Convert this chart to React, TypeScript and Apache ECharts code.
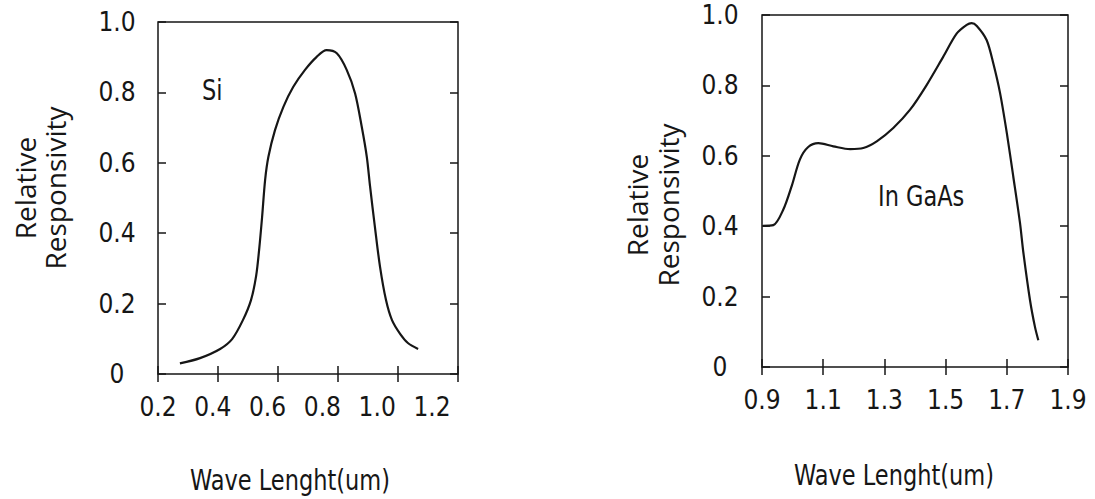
import React, { useEffect, useRef } from "react";
import * as echarts from "echarts";

// Si curve (wavelength in um, relative responsivity)
const siX = [0.273, 0.34, 0.407, 0.447, 0.483, 0.51, 0.527, 0.537, 0.547, 0.557, 0.568, 0.59, 0.618, 0.651, 0.69, 0.729, 0.762, 0.796, 0.829, 0.857, 0.879, 0.896, 0.907, 0.923, 0.94, 0.96, 0.98, 1.007, 1.033, 1.067];
const siY = [0.03, 0.045, 0.071, 0.099, 0.153, 0.21, 0.278, 0.352, 0.446, 0.551, 0.617, 0.693, 0.759, 0.816, 0.864, 0.901, 0.92, 0.911, 0.864, 0.797, 0.703, 0.617, 0.532, 0.418, 0.305, 0.21, 0.153, 0.114, 0.088, 0.071];

// InGaAs curve
const ingaasX = [0.903, 0.937, 0.97, 0.997, 1.024, 1.051, 1.084, 1.133, 1.188, 1.231, 1.275, 1.329, 1.384, 1.438, 1.492, 1.536, 1.569, 1.585, 1.602, 1.634, 1.656, 1.678, 1.7, 1.721, 1.743, 1.754, 1.776, 1.792, 1.803];
const ingaasY = [0.401, 0.403, 0.448, 0.514, 0.59, 0.625, 0.636, 0.627, 0.619, 0.622, 0.641, 0.679, 0.731, 0.801, 0.881, 0.947, 0.972, 0.977, 0.969, 0.929, 0.862, 0.778, 0.665, 0.542, 0.41, 0.326, 0.189, 0.114, 0.076];

// tick labels
const siXTicks = [0.2, 0.4, 0.6, 0.8, 1.0, 1.2];
const ingaasXTicks = [0.9, 1.1, 1.3, 1.5, 1.7, 1.9];
const yTicks = [0, 0.2, 0.4, 0.6, 0.8, 1.0];

const xTitle = "Wave Lenght(um)";
const yTitle = "Relative\nResponsivity";
const siName = "Si";
const ingaasName = "In GaAs";

const INK = "#161616";
const LABEL_FONT = "'DejaVu Sans Condensed', 'Liberation Sans Narrow', 'DejaVu Sans', sans-serif";
const TITLE_FONT = "'Open Sans', 'Liberation Sans', sans-serif";

const fmt = (v: number) => (v === 0 ? "0" : v.toFixed(1));

export default function App() {
  const ref = useRef<HTMLDivElement>(null);
  useEffect(() => {
    if (!ref.current) return;
    const chart = echarts.init(ref.current, null, { renderer: "svg" });
    const tick = { show: true, inside: true, length: 8, lineStyle: { color: INK, width: 1.5 } };
    const noLabel = { show: false };
    const labelStyle = { color: INK, fontSize: 26, lineHeight: 22, fontFamily: LABEL_FONT };
    const grids = [
      { left: 158, top: 22, width: 300, height: 352, show: true, borderColor: INK, borderWidth: 1.5, backgroundColor: "transparent" },
      { left: 762, top: 15, width: 306, height: 352, show: true, borderColor: INK, borderWidth: 1.5, backgroundColor: "transparent" },
    ];
    const xAxes: any[] = [
      // 0: Si bottom ticks
      { type: "value", gridIndex: 0, position: "bottom", min: 0.2, max: 1.2, interval: 0.2, axisLine: { show: false }, axisTick: tick, axisLabel: noLabel, splitLine: { show: false } },
      // 1: Si top ticks
      { type: "value", gridIndex: 0, position: "top", min: 0.2, max: 1.2, interval: 0.2, axisLine: { show: false }, axisTick: tick, axisLabel: noLabel, splitLine: { show: false } },
      // 2: Si labels
      {
        type: "value", gridIndex: 0, position: "bottom", min: 0.2, max: 1.295,
        axisLine: { show: false }, axisTick: { show: false }, splitLine: { show: false },
        axisLabel: { ...labelStyle, margin: 22, customValues: siXTicks, formatter: (v: number) => fmt(v) },
      },
      // 3: InGaAs bottom
      {
        type: "value", gridIndex: 1, position: "bottom", min: 0.9, max: 1.9, interval: 0.2,
        axisLine: { show: false }, axisTick: tick, splitLine: { show: false },
        axisLabel: { ...labelStyle, margin: 22, customValues: ingaasXTicks, formatter: (v: number) => fmt(v) },
      },
      // 4: InGaAs top
      { type: "value", gridIndex: 1, position: "top", min: 0.9, max: 1.9, interval: 0.2, axisLine: { show: false }, axisTick: tick, axisLabel: noLabel, splitLine: { show: false } },
    ];
    const yAxes: any[] = [
      {
        type: "value", gridIndex: 0, position: "left", min: 0, max: 1, interval: 0.2,
        axisLine: { show: false }, axisTick: tick, splitLine: { show: false },
        axisLabel: { ...labelStyle, margin: 41, align: "center", customValues: yTicks, formatter: (v: number) => fmt(v) },
      },
      { type: "value", gridIndex: 0, position: "right", min: 0, max: 1, interval: 0.2, axisLine: { show: false }, axisTick: tick, axisLabel: noLabel, splitLine: { show: false } },
      {
        type: "value", gridIndex: 1, position: "left", min: 0, max: 1, interval: 0.2,
        axisLine: { show: false }, axisTick: tick, splitLine: { show: false },
        axisLabel: { ...labelStyle, margin: 42, align: "center", customValues: yTicks, formatter: (v: number) => fmt(v) },
      },
      { type: "value", gridIndex: 1, position: "right", min: 0, max: 1, interval: 0.2, axisLine: { show: false }, axisTick: tick, axisLabel: noLabel, splitLine: { show: false } },
    ];
    const textStyle = (t: string, font: string, size: number) => ({ text: t, fill: INK, fontSize: size, fontFamily: font });
    chart.setOption({
      animation: false,
      backgroundColor: "#ffffff",
      grid: grids,
      xAxis: xAxes,
      yAxis: yAxes,
      series: [
        {
          type: "line", name: siName, xAxisIndex: 0, yAxisIndex: 0,
          data: siX.map((x, i) => [x, siY[i]]),
          smooth: 0.3, showSymbol: false,
          lineStyle: { color: INK, width: 2.2 },
        },
        {
          type: "line", name: ingaasName, xAxisIndex: 3, yAxisIndex: 2,
          data: ingaasX.map((x, i) => [x, ingaasY[i]]),
          smooth: 0.3, showSymbol: false,
          lineStyle: { color: INK, width: 2.2 },
        },
      ],
      graphic: [
        { type: "text", x: 202, y: 90, scaleY: 1.15, style: { ...textStyle(siName, LABEL_FONT, 25), align: "left", verticalAlign: "middle" } },
        { type: "text", x: 878, y: 196, scaleY: 1.15, style: { ...textStyle(ingaasName, LABEL_FONT, 25), align: "left", verticalAlign: "middle" } },
        { type: "text", x: 290, y: 480, scaleY: 1.15, style: { ...textStyle(xTitle, LABEL_FONT, 25), align: "center", verticalAlign: "middle" } },
        { type: "text", x: 894, y: 475, scaleY: 1.15, style: { ...textStyle(xTitle, LABEL_FONT, 25), align: "center", verticalAlign: "middle" } },
        { type: "text", x: 40, y: 188, rotation: Math.PI / 2, style: { ...textStyle(yTitle, TITLE_FONT, 28), lineHeight: 30, align: "center", verticalAlign: "middle" } },
        { type: "text", x: 652, y: 205, rotation: Math.PI / 2, style: { ...textStyle(yTitle, TITLE_FONT, 28), lineHeight: 31, align: "center", verticalAlign: "middle" } },
      ],
    });
    return () => chart.dispose();
  }, []);
  return <div ref={ref} style={{ position: "absolute", left: 0, top: 0, width: 1095, height: 499 }} />;
}
